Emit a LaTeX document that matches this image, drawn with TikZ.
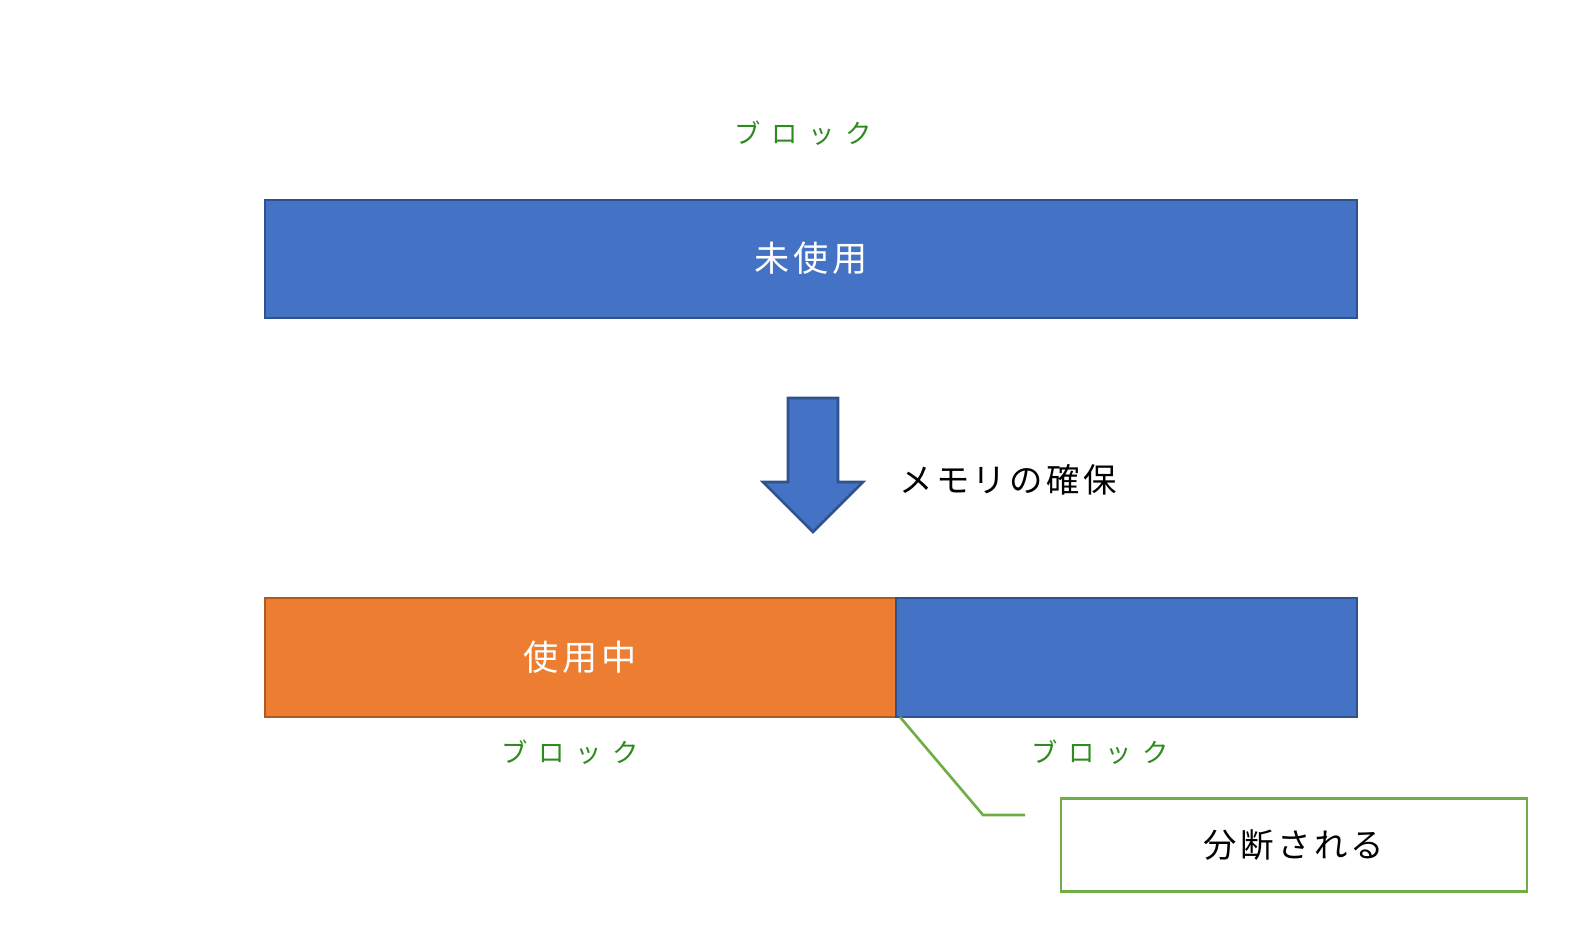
\documentclass[tikz,border=0pt]{standalone}
\usepackage{fontspec}
\newfontfamily\jp{Noto Sans CJK JP}[LetterSpace=10]
\newfontfamily\jpwide{Noto Sans CJK JP}[LetterSpace=40]
\definecolor{blk}{HTML}{4472C4}
\definecolor{blkline}{HTML}{2F528F}
\definecolor{used}{HTML}{ED7D31}
\definecolor{usedline}{HTML}{AE5A21}
\definecolor{note}{HTML}{70AD47}
\definecolor{lbl}{HTML}{2E8B1E}
\begin{document}
\begin{tikzpicture}[x=0.02cm,y=-0.02cm,
    freebox/.style={fill=blk,draw=blkline,line width=1.5pt},
    usedbox/.style={fill=used,draw=usedline,line width=1.5pt},
    boxtext/.style={text=white,font=\jp\fontsize{20}{24}\selectfont},
    blocklabel/.style={text=lbl,font=\jpwide\fontsize{15}{18}\selectfont},
    plaintext/.style={font=\jp\fontsize{19}{23}\selectfont}]
    % frame
    \useasboundingbox (0,0) rectangle (1578,937);
    % before
    \node[blocklabel] (lbltop) at (803,133) {ブロック};
    \draw[freebox] (265,200) rectangle (1357,318);
    \node[boxtext] (free) at (811,258) {未使用};
    % arrow
    \draw[freebox] (788,398) -- (838,398) -- (838,482) -- (863,482) -- (813,532)
        -- (763,482) -- (788,482) -- cycle;
    \node[plaintext] (alloc) at (1008,480) {メモリの確保};
    % after
    \draw[usedbox] (265,598) rectangle (896,717);
    \draw[freebox] (896,598) rectangle (1357,717);
    \node[boxtext] (inuse) at (580,657) {使用中};
    \node[blocklabel] (lblleft) at (570,752) {ブロック};
    \node[blocklabel] (lblright) at (1100,752) {ブロック};
    % callout
    \node[draw=note,line width=1.5pt,minimum width=9.32cm,minimum height=1.86cm,
        plaintext] (split) at (1294,845) {分断される};
    \coordinate (cut) at (900,717);
    \draw[note,line width=1.5pt] (cut) -- (983,815) -- (1025,815);
\end{tikzpicture}
\end{document}
